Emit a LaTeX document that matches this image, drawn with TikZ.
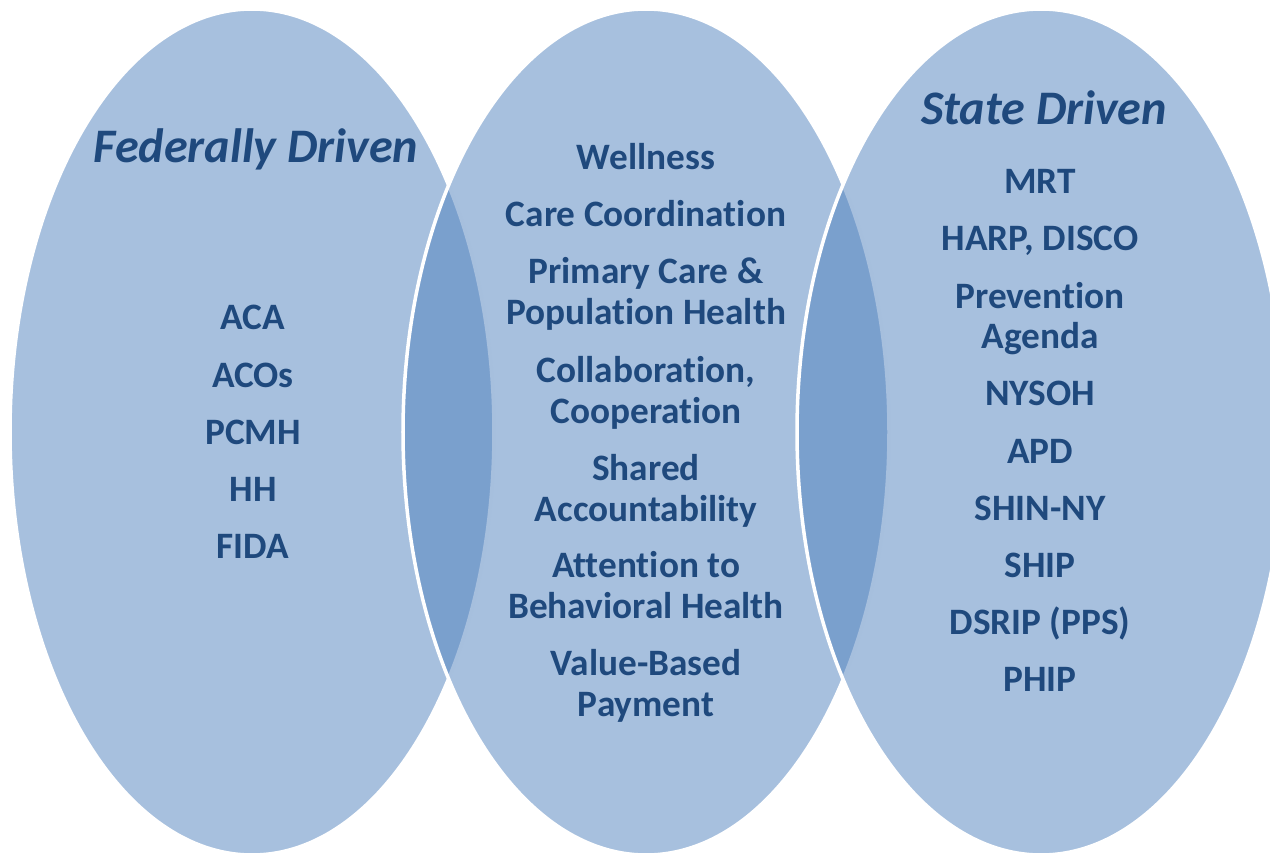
\documentclass[tikz,border=0pt]{standalone}
\usepackage{fontspec}
\setmainfont{Carlito}[RawFeature={-liga;-clig;-calt}]
\usepackage{tikz}

\definecolor{vennblue}{HTML}{4F81BD}
\definecolor{itemblue}{HTML}{1F497D}

\tikzset{
  venn/.style={fill=vennblue, fill opacity=0.5, draw=white, draw opacity=1, line width=1pt},
  item/.style={text=itemblue, font=\bfseries\fontsize{10.6}{11.6}\selectfont, align=center, anchor=base, inner sep=0pt},
  head/.style={text=itemblue, font=\bfseries\itshape\fontsize{13.7}{15}\selectfont, anchor=base, inner sep=0pt}
}

\begin{document}
\begin{tikzpicture}[x=0.01cm, y=-0.01cm]
  \useasboundingbox (0,0) rectangle (1270,855);
  \clip (0,0) rectangle (1270,855);

  % the three sets, left to right (each one covers the edge of the one before)
  \filldraw[venn] (252,432) ellipse [x radius=242, y radius=423];
  \filldraw[venn] (646,432) ellipse [x radius=243, y radius=423];
  \filldraw[venn] (1041,432) ellipse [x radius=244, y radius=423];

  % federal
  \node[head] (fed) at (256,163) {Federally Driven};
  \node[item] (aca) at (253,330) {ACA};
  \node[item] (acos) at (253,387) {ACOs};
  \node[item] (pcmh) at (253,444) {PCMH};
  \node[item] (hh) at (253,501) {HH};
  \node[item] (fida) at (253,558) {FIDA};

  % shared (two-line items sit on the baseline of their last line)
  \node[item] (well) at (646,170) {Wellness};
  \node[item] (care) at (646,227) {Care Coordination};
  \node[item] (prim) at (646,324) {Primary Care \&\\Population Health};
  \node[item] (coll) at (646,423) {Collaboration,\\Cooperation};
  \node[item] (acct) at (646,521) {Shared\\Accountability};
  \node[item] (behav) at (646,618) {Attention to\\Behavioral Health};
  \node[item] (vbp) at (646,716) {Value-Based\\Payment};

  % state
  \node[head] (state) at (1044,125) {State Driven};
  \node[item] (mrt) at (1040,194) {MRT};
  \node[item] (harp) at (1040,251) {HARP, DISCO};
  \node[item] (prev) at (1040,349) {Prevention\\Agenda};
  \node[item] (nysoh) at (1040,406) {NYSOH};
  \node[item] (apd) at (1040,463) {APD};
  \node[item] (shin) at (1040,520) {SHIN-NY};
  \node[item] (ship) at (1040,577) {SHIP};
  \node[item] (dsrip) at (1040,634) {DSRIP (PPS)};
  \node[item] (phip) at (1040,691) {PHIP};
\end{tikzpicture}
\end{document}
